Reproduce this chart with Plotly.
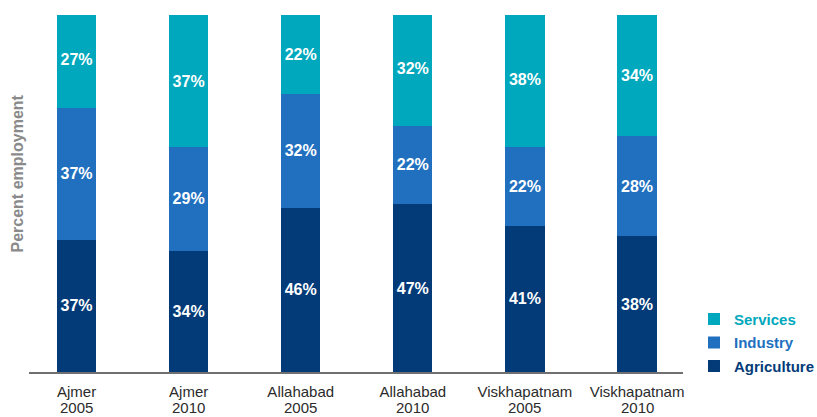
import plotly.graph_objects as go

cities = ["Ajmer", "Ajmer", "Allahabad", "Allahabad", "Viskhapatnam", "Viskhapatnam"]
years = ["2005", "2010", "2005", "2010", "2005", "2010"]
categories = [f"{c} {y}" for c, y in zip(cities, years)]
agriculture = [37, 34, 46, 47, 41, 38]
industry = [37, 29, 32, 22, 22, 28]
services = [27, 37, 22, 32, 38, 34]

series = [
    ("Agriculture", agriculture, "#033b78", 3),
    ("Industry", industry, "#2170bf", 2),
    ("Services", services, "#00a8bd", 1),
]

FONT = "Liberation Sans, Arial, Helvetica, sans-serif"

fig = go.Figure()
for name, vals, color, rank in series:
    fig.add_trace(go.Bar(
        x=categories, y=vals, name=f"<b><span style='color:{color}'>{name}</span></b>",
        legendgroup=name, legendrank=rank,
        marker=dict(color=color, line=dict(width=0)),
        width=0.35,
        text=[f"<b>{v}%</b>" for v in vals],
        textposition="inside", insidetextanchor="middle",
        textangle=0, constraintext="none",
        textfont=dict(color="white", size=16, family=FONT),
        hoverinfo="skip",
    ))

fig.update_layout(
    barmode="stack",
    width=817, height=417,
    margin=dict(l=29, r=134, t=15, b=45, autoexpand=False),
    plot_bgcolor="white", paper_bgcolor="white",
    font=dict(family=FONT, size=15, color="#2b2b2b"),
    legend=dict(
        x=(694 - 29) / 654, y=0.194, xanchor="left", yanchor="top",
        traceorder="grouped", tracegroupgap=1,
        font=dict(size=15),
        itemwidth=30,
        bgcolor="rgba(0,0,0,0)",
    ),
    showlegend=True,
)
fig.update_xaxes(
    type="category", range=[-0.424, 5.41], automargin=False,
    tickmode="array", tickvals=categories, ticktext=cities,
    ticklabelstandoff=5,
    showline=True, linecolor="#707070", linewidth=2,
    ticks="", showgrid=False, tickfont=dict(size=15, color="#2b2b2b"),
)
fig.update_yaxes(
    range=[0, 100], automargin=False, showticklabels=False, showgrid=False,
    zeroline=False, showline=False,
)
for cat, yr in zip(categories, years):
    fig.add_annotation(
        x=cat, xref="x", y=0, yref="paper", yanchor="top", yshift=-25,
        text=yr, showarrow=False, font=dict(size=15, color="#2b2b2b"),
    )
fig.add_annotation(
    text="<b>Percent employment</b>", textangle=-90,
    xref="paper", yref="paper", x=(17 - 29) / 654, y=(372 - 173.5) / 357,
    xanchor="center", yanchor="middle", showarrow=False,
    font=dict(size=16, color="#8a8a8a"),
)

fig.write_html("out.html", config={"displayModeBar": False},
               post_script="document.body.style.margin='0px';")
